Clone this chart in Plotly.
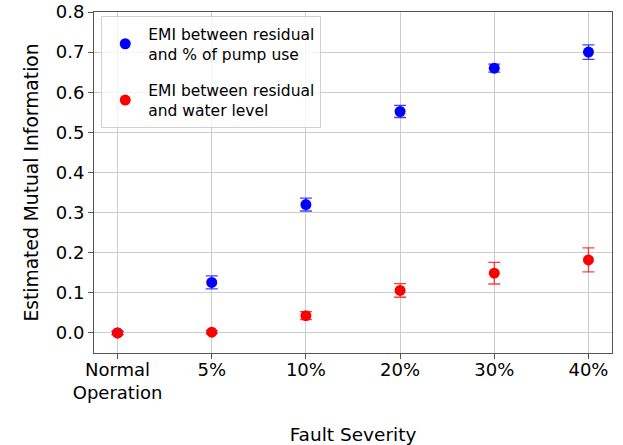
import plotly.graph_objects as go

categories = ["Normal<br>Operation", "5%", "10%", "20%", "30%", "40%"]
pump_emi = [0.0, 0.126, 0.320, 0.552, 0.660, 0.700]
pump_err = [0.004, 0.016, 0.016, 0.015, 0.010, 0.018]
level_emi = [0.0, 0.002, 0.043, 0.106, 0.149, 0.182]
level_err = [0.004, 0.004, 0.010, 0.017, 0.027, 0.030]

xs = list(range(len(categories)))
font = "DejaVu Sans, Verdana, sans-serif"

fig = go.Figure()
fig.add_trace(go.Scatter(
    x=xs, y=pump_emi, mode="markers", legendgroup="a",
    name="EMI between residual<br>and % of pump use",
    marker=dict(color="blue", size=11),
    error_y=dict(type="data", array=pump_err, color="rgba(0,0,255,0.75)", thickness=1.3, width=6),
))
fig.add_trace(go.Scatter(
    x=xs, y=level_emi, mode="markers", legendgroup="b",
    name="EMI between residual<br>and water level",
    marker=dict(color="red", size=11),
    error_y=dict(type="data", array=level_err, color="rgba(255,0,0,0.75)", thickness=1.3, width=6),
))

fig.update_layout(
    width=623, height=445,
    margin=dict(l=94, r=11, t=12, b=92),
    plot_bgcolor="white", paper_bgcolor="white",
    font=dict(family=font, size=18, color="black"),
    showlegend=True,
    legend=dict(
        x=0.014, y=0.988, xanchor="left", yanchor="top",
        bgcolor="rgba(255,255,255,0.8)", bordercolor="#d0d0d0", borderwidth=1,
        font=dict(size=15.5), tracegroupgap=13, itemwidth=36,
    ),
    xaxis=dict(
        range=[-0.25, 5.25], tickmode="array", tickvals=xs, ticktext=categories,
        showgrid=True, gridcolor="#cccccc", gridwidth=1,
        showline=True, linecolor="#555555", linewidth=1, mirror=True,
        ticks="outside", ticklen=5, tickcolor="#555555", ticklabelstandoff=-5,
        zeroline=False, automargin=False,
        title=dict(text="Fault Severity", standoff=37, font=dict(size=18.5)),
    ),
    yaxis=dict(
        range=[-0.05, 0.8], tickmode="array",
        tickvals=[0.0, 0.1, 0.2, 0.3, 0.4, 0.5, 0.6, 0.7, 0.8],
        ticktext=["0.0", "0.1", "0.2", "0.3", "0.4", "0.5", "0.6", "0.7", "0.8"],
        showgrid=True, gridcolor="#cccccc", gridwidth=1,
        showline=True, linecolor="#555555", linewidth=1, mirror=True,
        ticks="outside", ticklen=5, tickcolor="#555555",
        zeroline=False, automargin=False,
        title=dict(text="Estimated Mutual Information", standoff=12, font=dict(size=18.7)),
    ),
)

fig.write_html("out.html")
